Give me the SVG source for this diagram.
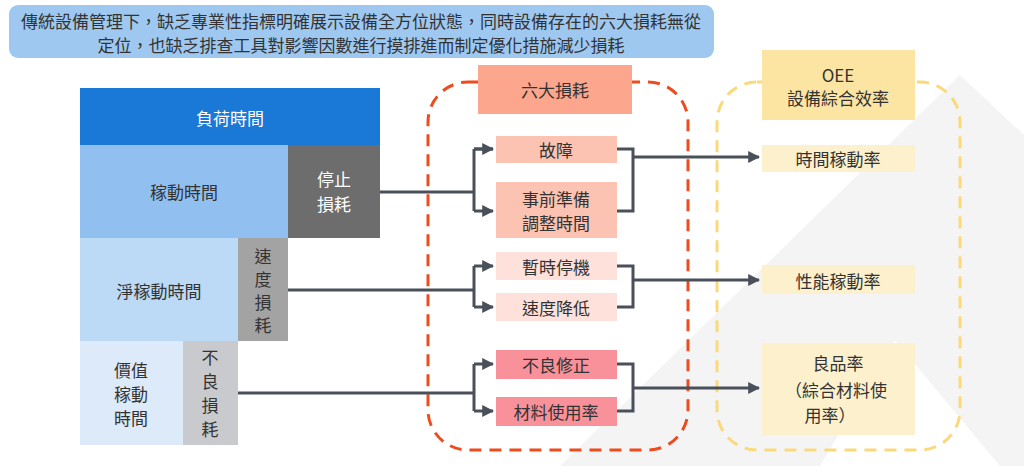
<svg xmlns="http://www.w3.org/2000/svg" width="1024" height="466" viewBox="0 0 1024 466">
<defs>
<marker id="ah" viewBox="0 0 10 10" refX="9" refY="5" markerWidth="4" markerHeight="4" orient="auto"><path d="M0,0L10,5L0,10z" fill="#4a5059"/></marker>
<style>
text{font-family:"Noto Sans CJK TC","Noto Sans CJK SC",sans-serif;font-size:17px;fill:#333;text-anchor:middle;dominant-baseline:central}
.w{fill:#fff}
.c{fill:none;stroke:#4a5059;stroke-width:3}
</style>
</defs>
<rect width="1024" height="466" fill="#fff"/>
<polygon points="560,466 960,75 1024,135 1024,466" fill="#f4f4f4"/>
<polygon points="820,466 895,340 1000,466" fill="#fff"/>
<g id="banner"><rect x="9" y="5" width="705" height="53" rx="9" fill="#9ec8f0"/>
<text x="361" y="20">傳統設備管理下，缺乏專業性指標明確展示設備全方位狀態，同時設備存在的六大損耗無從</text>
<text x="361" y="44">定位，也缺乏排查工具對影響因數進行摸排進而制定優化措施減少損耗</text></g>
<g id="load"><rect x="80" y="88" width="300" height="57" fill="#1a78d6"/><text class="w" x="230" y="117">負荷時間</text></g>
<g id="op"><rect x="80" y="145" width="208" height="93" fill="#90bff0"/><text x="184" y="191">稼動時間</text></g>
<g id="stoploss"><rect x="288" y="145" width="92" height="93" fill="#6d6d6d"/><text class="w" x="334" y="178">停止</text><text class="w" x="334" y="203">損耗</text></g>
<g id="net"><rect x="80" y="238" width="158" height="103" fill="#bcd9f6"/><text x="159" y="290">淨稼動時間</text></g>
<g id="speedloss"><rect x="238" y="238" width="50" height="103" fill="#a3a3a3"/><text x="263" y="255">速</text><text x="263" y="278">度</text><text x="263" y="301">損</text><text x="263" y="324">耗</text></g>
<g id="value"><rect x="80" y="341" width="103" height="104" fill="#dceaf9"/><text x="131" y="369">價值</text><text x="131" y="393">稼動</text><text x="131" y="417">時間</text></g>
<g id="defectloss"><rect x="183" y="341" width="55" height="104" fill="#c8cacd"/><text x="210" y="356">不</text><text x="210" y="380">良</text><text x="210" y="404">損</text><text x="210" y="428">耗</text></g>
<rect x="428" y="82" width="260" height="368" rx="40" fill="none" stroke="#ee4b1e" stroke-width="3" stroke-dasharray="12,8"/>
<rect x="717" y="82" width="243" height="368" rx="40" fill="none" stroke="#fbd97a" stroke-width="3" stroke-dasharray="12,8"/>
<g id="sixloss"><rect x="478" y="65" width="154" height="49" fill="#fca68d"/><text x="555" y="89">六大損耗</text></g>
<g id="l1"><rect x="496" y="136" width="121" height="27" fill="#fcc3b2"/><text x="556" y="149">故障</text></g>
<g id="l2"><rect x="496" y="182" width="121" height="56" fill="#fcc3b2"/><text x="556" y="198">事前準備</text><text x="556" y="222">調整時間</text></g>
<g id="l3"><rect x="496" y="252" width="121" height="28" fill="#fde1da"/><text x="556" y="266">暫時停機</text></g>
<g id="l4"><rect x="496" y="293" width="121" height="28" fill="#fde1da"/><text x="556" y="307">速度降低</text></g>
<g id="l5"><rect x="496" y="350" width="121" height="29" fill="#f8919a"/><text x="556" y="364">不良修正</text></g>
<g id="l6"><rect x="496" y="397" width="121" height="29" fill="#f8919a"/><text x="556" y="411">材料使用率</text></g>
<g id="oee"><rect x="762" y="50" width="153" height="70" fill="#fce5a3"/><text x="838" y="74">OEE</text><text x="838" y="97">設備綜合效率</text></g>
<g id="r1"><rect x="762" y="145" width="153" height="27" fill="#fdf0cd"/><text x="838" y="158">時間稼動率</text></g>
<g id="r2"><rect x="762" y="265" width="153" height="29" fill="#fdf0cd"/><text x="838" y="280">性能稼動率</text></g>
<g id="r3"><rect x="762" y="343" width="153" height="92" fill="#fdf0cd"/><text x="838" y="362">良品率</text><text x="836" y="389">（綜合材料使</text><text x="830" y="414">用率）</text></g>
<g id="connectors">
<path class="c" d="M380,192H474M474,149V211M474,149H493M474,211H493" marker-end="url(#ah)"/>
<path class="c" d="M474,149H493" marker-end="url(#ah)"/>
<path class="c" d="M288,290H474M474,266V307M474,266H493" marker-end="url(#ah)"/>
<path class="c" d="M474,307H493" marker-end="url(#ah)"/>
<path class="c" d="M238,393H474M474,364V411M474,364H493" marker-end="url(#ah)"/>
<path class="c" d="M474,411H493" marker-end="url(#ah)"/>
<path class="c" d="M617,149H633V211H617"/>
<path class="c" d="M633,157H759" marker-end="url(#ah)"/>
<path class="c" d="M617,266H633V307H617"/>
<path class="c" d="M633,280H759" marker-end="url(#ah)"/>
<path class="c" d="M617,364H633V411H617"/>
<path class="c" d="M633,388H759" marker-end="url(#ah)"/>
</g>
</svg>
